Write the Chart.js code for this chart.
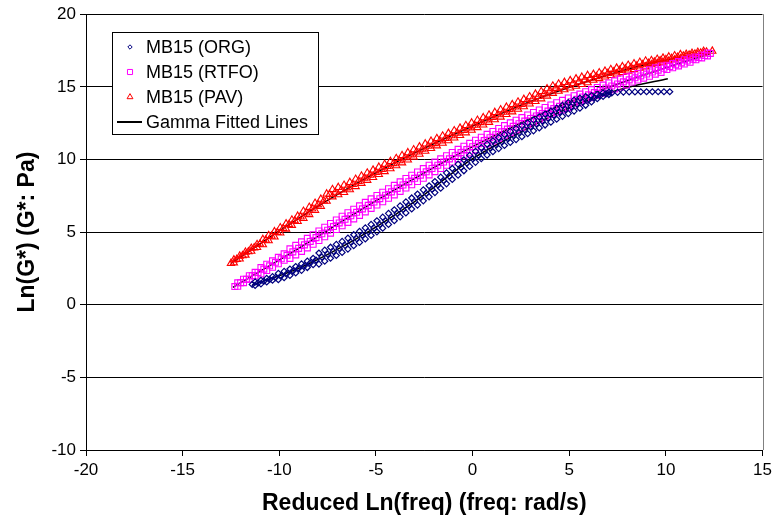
<!DOCTYPE html>
<html>
<head>
<meta charset="utf-8">
<script src="https://cdn.jsdelivr.net/npm/chart.js@4/dist/chart.umd.min.js"></script>
<style>
    html, body { margin: 0; padding: 0; background: #fff; }
    #wrap { width: 776px; height: 522px; }
</style>
</head>
<body>
<div id="wrap"><canvas id="chart" width="776" height="522"></canvas></div>
<script>
// MB15 (ORG) - middle of the band
const orgX = [-11.4, -11.1, -10.8, -10.5, -10.2, -9.9, -9.6, -9.3, -9.0, -8.7, -8.4, -8.1, -7.8, -7.5, -7.2, -6.9, -6.6, -6.3, -6.0, -5.7,
    -5.4, -5.1, -4.8, -4.5, -4.2, -3.9, -3.6, -3.3, -3.0, -2.7, -2.4, -2.1, -1.8, -1.5, -1.2, -0.9, -0.6, -0.3, 0.0, 0.3,
    0.6, 0.9, 1.2, 1.5, 1.8, 2.1, 2.4, 2.7, 3.0, 3.3, 3.6, 3.9, 4.2, 4.5, 4.8, 5.1, 5.4, 5.7, 6.0, 6.3,
    6.6, 6.9, 7.2, 7.5, 7.8, 8.1, 8.4, 8.7, 9.0, 9.3, 9.6, 9.9, 10.2];
const orgY = [1.40, 1.50, 1.62, 1.75, 1.87, 2.00, 2.15, 2.32, 2.50, 2.68, 2.88, 3.08, 3.28, 3.48, 3.67, 3.87, 4.09, 4.32, 4.55, 4.78,
    5.03, 5.27, 5.52, 5.78, 6.03, 6.29, 6.56, 6.83, 7.10, 7.38, 7.67, 7.95, 8.25, 8.55, 8.85, 9.15, 9.45, 9.75, 10.05, 10.30,
    10.55, 10.80, 11.02, 11.23, 11.45, 11.65, 11.85, 12.05, 12.25, 12.45, 12.65, 12.85, 13.05, 13.25, 13.45, 13.62, 13.80, 13.95, 14.10, 14.25,
    14.40, 14.52, 14.58, 14.62, 14.64, 14.65, 14.65, 14.66, 14.66, 14.66, 14.66, 14.66, 14.66];
// upper and lower edge of the ORG band (overlapping isotherms)
const orgEdgeX = [-11.25, -10.95, -10.65, -10.35, -10.05, -9.75, -9.45, -9.15, -8.85, -8.55, -8.25, -7.95, -7.65, -7.35, -7.05, -6.75, -6.45, -6.15, -5.85, -5.55,
    -5.25, -4.95, -4.65, -4.35, -4.05, -3.75, -3.45, -3.15, -2.85, -2.55, -2.25, -1.95, -1.65, -1.35, -1.05, -0.75, -0.45, -0.15, 0.15, 0.45,
    0.75, 1.05, 1.35, 1.65, 1.95, 2.25, 2.55, 2.85, 3.15, 3.45, 3.75, 4.05, 4.35, 4.65, 4.95, 5.25, 5.55, 5.85, 6.15, 6.45,
    6.75, 7.05];
const orgUpperY = [1.57, 1.68, 1.81, 1.93, 2.16, 2.30, 2.46, 2.63, 2.81, 3.00, 3.20, 3.56, 3.76, 3.96, 4.15, 4.36, 4.59, 4.82, 5.05, 5.29,
    5.53, 5.78, 6.03, 6.29, 6.54, 6.81, 7.08, 7.35, 7.62, 7.91, 8.19, 8.48, 8.78, 9.08, 9.38, 9.68, 9.98, 10.28, 10.56, 10.81,
    11.06, 11.29, 11.51, 11.72, 11.93, 12.13, 12.33, 12.53, 12.73, 12.93, 13.13, 13.33, 13.53, 13.73, 13.92, 14.09, 14.23, 14.33, 14.40, 14.48,
    14.58, 14.63];
const orgLowerY = [1.33, 1.44, 1.57, 1.69, 1.72, 1.86, 2.02, 2.19, 2.37, 2.56, 2.76, 2.80, 3.00, 3.20, 3.39, 3.60, 3.83, 4.06, 4.29, 4.53,
    4.77, 5.02, 5.27, 5.53, 5.78, 6.05, 6.32, 6.59, 6.86, 7.15, 7.43, 7.72, 8.02, 8.32, 8.62, 8.92, 9.22, 9.52, 9.80, 10.05,
    10.30, 10.53, 10.75, 10.96, 11.17, 11.37, 11.57, 11.77, 11.97, 12.17, 12.37, 12.57, 12.77, 12.97, 13.16, 13.33, 13.53, 13.73, 13.96, 14.18,
    14.34, 14.47];

// MB15 (RTFO)
const rtfoX = [-12.3, -12.0, -11.7, -11.4, -11.1, -10.8, -10.5, -10.2, -9.9, -9.6, -9.3, -9.0, -8.7, -8.4, -8.1, -7.8, -7.5, -7.2, -6.9, -6.6,
    -6.3, -6.0, -5.7, -5.4, -5.1, -4.8, -4.5, -4.2, -3.9, -3.6, -3.3, -3.0, -2.7, -2.4, -2.1, -1.8, -1.5, -1.2, -0.9, -0.6,
    -0.3, 0.0, 0.3, 0.6, 0.9, 1.2, 1.5, 1.8, 2.1, 2.4, 2.7, 3.0, 3.3, 3.6, 3.9, 4.2, 4.5, 4.8, 5.1, 5.4,
    5.7, 6.0, 6.3, 6.6, 6.9, 7.2, 7.5, 7.8, 8.1, 8.4, 8.7, 9.0, 9.3, 9.6, 9.9, 10.2, 10.5, 10.8, 11.1, 11.4,
    11.7, 12.0, 12.3];
const rtfoY = [1.25, 1.52, 1.76, 2.00, 2.22, 2.45, 2.68, 2.92, 3.16, 3.40, 3.64, 3.88, 4.12, 4.36, 4.62, 4.88, 5.13, 5.38, 5.63, 5.88,
    6.12, 6.36, 6.60, 6.84, 7.07, 7.30, 7.54, 7.77, 8.01, 8.24, 8.47, 8.70, 8.92, 9.15, 9.38, 9.60, 9.82, 10.04, 10.26, 10.47,
    10.68, 10.88, 11.09, 11.30, 11.50, 11.70, 11.90, 12.09, 12.28, 12.46, 12.64, 12.82, 12.99, 13.16, 13.33, 13.50, 13.66, 13.82, 13.98, 14.14,
    14.30, 14.45, 14.60, 14.75, 14.92, 15.06, 15.20, 15.34, 15.48, 15.62, 15.75, 15.88, 16.02, 16.15, 16.28, 16.40, 16.52, 16.65, 16.78, 16.90,
    17.02, 17.15, 17.30];
const rtfoEdgeX = [-12.15, -11.85, -11.55, -11.25, -10.95, -10.65, -10.35, -10.05, -9.75, -9.45, -9.15, -8.85, -8.55, -8.25, -7.95, -7.65, -7.35, -7.05, -6.75, -6.45,
    -6.15, -5.85, -5.55, -5.25, -4.95, -4.65, -4.35, -4.05, -3.75, -3.45, -3.15, -2.85, -2.55, -2.25, -1.95, -1.65, -1.35, -1.05, -0.75, -0.45,
    -0.15, 0.15, 0.45, 0.75, 1.05, 1.35, 1.65, 1.95, 2.25, 2.55, 2.85, 3.15, 3.45, 3.75, 4.05, 4.35, 4.65, 4.95, 5.25, 5.55,
    5.85, 6.15, 6.45, 6.75, 7.05, 7.35, 7.65, 7.95, 8.25, 8.55, 8.85, 9.15, 9.45, 9.75, 10.05, 10.35, 10.65, 10.95, 11.25, 11.55,
    11.85, 12.15];
const rtfoUpperY = [1.51, 1.76, 2.00, 2.23, 2.56, 2.79, 3.02, 3.26, 3.50, 3.85, 4.09, 4.33, 4.57, 4.82, 5.08, 5.34, 5.59, 5.84, 6.09, 6.33,
    6.57, 6.81, 7.05, 7.29, 7.52, 7.75, 7.99, 8.22, 8.46, 8.69, 8.92, 9.14, 9.37, 9.60, 9.82, 10.04, 10.26, 10.48, 10.70, 10.91,
    11.11, 11.32, 11.53, 11.73, 11.93, 12.13, 12.33, 12.52, 12.70, 12.88, 13.06, 13.24, 13.41, 13.58, 13.75, 13.91, 14.07, 14.23, 14.39, 14.50,
    14.66, 14.81, 14.96, 15.12, 15.27, 15.41, 15.55, 15.69, 15.77, 15.91, 16.04, 16.17, 16.31, 16.44, 16.49, 16.61, 16.74, 16.87, 16.99, 17.06,
    17.19, 17.33];
const rtfoLowerY = [1.27, 1.52, 1.76, 1.99, 2.12, 2.35, 2.58, 2.82, 3.06, 3.19, 3.43, 3.67, 3.91, 4.16, 4.42, 4.68, 4.93, 5.18, 5.43, 5.67,
    5.91, 6.15, 6.39, 6.63, 6.86, 7.09, 7.33, 7.56, 7.80, 8.03, 8.26, 8.48, 8.71, 8.94, 9.16, 9.38, 9.60, 9.82, 10.04, 10.25,
    10.45, 10.66, 10.87, 11.07, 11.27, 11.47, 11.67, 11.86, 12.04, 12.22, 12.40, 12.58, 12.75, 12.92, 13.09, 13.25, 13.41, 13.57, 13.73, 13.94,
    14.10, 14.25, 14.40, 14.56, 14.71, 14.85, 14.99, 15.13, 15.33, 15.47, 15.60, 15.73, 15.87, 15.99, 16.19, 16.31, 16.44, 16.57, 16.69, 16.86,
    16.99, 17.13];

// MB15 (PAV)
const pavX = [-12.5, -12.2, -11.9, -11.6, -11.3, -11.0, -10.7, -10.4, -10.1, -9.8, -9.5, -9.2, -8.9, -8.6, -8.3, -8.0, -7.7, -7.4, -7.1, -6.8,
    -6.5, -6.2, -5.9, -5.6, -5.3, -5.0, -4.7, -4.4, -4.1, -3.8, -3.5, -3.2, -2.9, -2.6, -2.3, -2.0, -1.7, -1.4, -1.1, -0.8,
    -0.5, -0.2, 0.1, 0.4, 0.7, 1.0, 1.3, 1.6, 1.9, 2.2, 2.5, 2.8, 3.1, 3.4, 3.7, 4.0, 4.3, 4.6, 4.9, 5.2,
    5.5, 5.8, 6.1, 6.4, 6.7, 7.0, 7.3, 7.6, 7.9, 8.2, 8.5, 8.8, 9.1, 9.4, 9.7, 10.0, 10.3, 10.6, 10.9, 11.2,
    11.5, 11.8, 12.1, 12.4];
const pavY = [2.85, 3.12, 3.38, 3.65, 3.92, 4.18, 4.45, 4.72, 4.98, 5.25, 5.52, 5.78, 6.05, 6.32, 6.60, 6.88, 7.15, 7.60, 7.75, 7.90,
    8.05, 8.28, 8.50, 8.72, 8.92, 9.12, 9.32, 9.52, 9.72, 9.92, 10.12, 10.32, 10.52, 10.72, 10.92, 11.10, 11.28, 11.46, 11.64, 11.82,
    12.00, 12.18, 12.36, 12.54, 12.72, 12.90, 13.08, 13.26, 13.44, 13.62, 13.80, 13.98, 14.16, 14.34, 14.52, 14.72, 14.90, 15.00, 15.12, 15.24,
    15.36, 15.48, 15.60, 15.71, 15.82, 15.93, 16.04, 16.14, 16.24, 16.34, 16.44, 16.53, 16.62, 16.71, 16.80, 16.88, 16.96, 17.04, 17.12, 17.19,
    17.26, 17.33, 17.40, 17.46];
const pavEdgeX = [-12.35, -12.05, -11.75, -11.45, -11.15, -10.85, -10.55, -10.25, -9.95, -9.65, -9.35, -9.05, -8.75, -8.45, -8.15, -7.85, -7.55, -7.25, -6.95, -6.65,
    -6.35, -6.05, -5.75, -5.45, -5.15, -4.85, -4.55, -4.25, -3.95, -3.65, -3.35, -3.05, -2.75, -2.45, -2.15, -1.85, -1.55, -1.25, -0.95, -0.65,
    -0.35, -0.05, 0.25, 0.55, 0.85, 1.15, 1.45, 1.75, 2.05, 2.35, 2.65, 2.95, 3.25, 3.55, 3.85, 4.15, 4.45, 4.75, 5.05, 5.35,
    5.65, 5.95, 6.25, 6.55, 6.85, 7.15, 7.45, 7.75, 8.05, 8.35, 8.65, 8.95, 9.25, 9.55, 9.85, 10.15, 10.45, 10.75, 11.05, 11.35,
    11.65, 11.95];
const pavUpperY = [3.09, 3.35, 3.62, 3.89, 4.15, 4.50, 4.77, 5.03, 5.30, 5.57, 5.83, 6.10, 6.44, 6.71, 6.99, 7.27, 7.63, 7.93, 8.08, 8.23,
    8.42, 8.64, 8.86, 9.07, 9.27, 9.47, 9.67, 9.87, 10.07, 10.27, 10.47, 10.67, 10.87, 11.07, 11.26, 11.44, 11.62, 11.80, 11.98, 12.16,
    12.34, 12.52, 12.70, 12.88, 13.06, 13.24, 13.42, 13.60, 13.78, 13.96, 14.14, 14.32, 14.50, 14.68, 14.87, 15.06, 15.20, 15.31, 15.43, 15.55,
    15.67, 15.79, 15.86, 15.97, 16.08, 16.19, 16.29, 16.39, 16.49, 16.59, 16.69, 16.78, 16.81, 16.90, 16.98, 17.06, 17.14, 17.22, 17.24, 17.31,
    17.38, 17.45];
const pavLowerY = [2.89, 3.15, 3.42, 3.69, 3.95, 4.14, 4.41, 4.67, 4.94, 5.21, 5.47, 5.74, 5.94, 6.21, 6.49, 6.77, 7.13, 7.43, 7.58, 7.73,
    7.92, 8.14, 8.36, 8.57, 8.77, 8.97, 9.17, 9.37, 9.57, 9.77, 9.97, 10.17, 10.37, 10.57, 10.76, 10.94, 11.12, 11.30, 11.48, 11.66,
    11.84, 12.02, 12.20, 12.38, 12.56, 12.74, 12.92, 13.10, 13.28, 13.46, 13.64, 13.82, 14.00, 14.18, 14.37, 14.56, 14.70, 14.81, 14.93, 15.05,
    15.17, 15.29, 15.46, 15.57, 15.68, 15.79, 15.89, 15.99, 16.09, 16.19, 16.29, 16.38, 16.53, 16.62, 16.70, 16.78, 16.86, 16.94, 17.08, 17.15,
    17.22, 17.29];

// Gamma fitted lines
const fitOrgX = [-11.4, -9, -6, -3, 0, 3, 5.6, 8, 10.1];
const fitOrgY = [1.35, 2.5, 4.55, 7.1, 10.05, 12.25, 13.9, 14.95, 15.55];
const fitRtfoX = [-12.4, -9, -6, -3, 0, 3, 6, 9, 12.3];
const fitRtfoY = [1.2, 3.88, 6.36, 8.7, 10.88, 12.82, 14.45, 15.88, 17.3];
const fitPavX = [-12.5, -9, -6, -3, 0, 3, 6, 9, 12.4];
const fitPavY = [2.85, 5.95, 8.35, 10.45, 12.3, 14.0, 15.4, 16.55, 17.45];

const seriesNames = ['MB15 (ORG)', 'MB15 (RTFO)', 'MB15 (PAV)', 'Gamma Fitted Lines'];
const FONT = "'Liberation Sans', Arial, sans-serif";

function toPoints(xs, ys) {
    return xs.map((x, i) => ({ x, y: ys[i] }));
}

// centre row plus the two edge rows of one band
function bandPoints(xs, ys, edgeXs, upperYs, lowerYs) {
    return toPoints(xs, ys).concat(toPoints(edgeXs, upperYs), toPoints(edgeXs, lowerYs));
}

function markerSet(label, points, colour, style, radius, legendRadius, lineW) {
    return {
        label,
        data: points,
        showLine: false,
        pointStyle: style,
        pointRadius: radius,
        legendRadius,
        pointBorderWidth: lineW,
        pointBorderColor: colour,
        pointBackgroundColor: 'rgba(0,0,0,0)',
        borderColor: colour,
        order: 1,
    };
}

function fitSet(label, xs, ys) {
    return {
        label,
        data: toPoints(xs, ys),
        showLine: true,
        borderColor: '#000',
        borderWidth: 1.5,
        pointRadius: 0,
        cubicInterpolationMode: 'monotone',
        order: 5,
    };
}

// legend box drawn inside the plot, Excel style
const boxLegend = {
    id: 'boxLegend',
    afterDraw(chart) {
        const ctx = chart.ctx;
        const left = 112, top = 32, w = 206, h = 102;
        ctx.save();
        ctx.fillStyle = '#fff';
        ctx.fillRect(left, top, w, h);
        ctx.strokeStyle = '#000';
        ctx.lineWidth = 1;
        ctx.strokeRect(left + 0.5, top + 0.5, w, h);
        ctx.font = '18px ' + FONT;
        ctx.textBaseline = 'middle';
        const sets = chart.data.datasets;
        for (let i = 0; i < 4; i++) {
            const ds = sets[i];
            const cy = top + 15 + i * 25;
            if (i < 3) {
                ctx.fillStyle = 'rgba(0,0,0,0)';
                ctx.strokeStyle = ds.pointBorderColor;
                ctx.lineWidth = 1;
                Chart.helpers.drawPoint(ctx, { pointStyle: ds.pointStyle, radius: ds.legendRadius, borderWidth: 1 }, 130, cy);
            } else {
                ctx.strokeStyle = '#000';
                ctx.lineWidth = 2;
                ctx.beginPath();
                ctx.moveTo(117, cy);
                ctx.lineTo(142, cy);
                ctx.stroke();
            }
            ctx.fillStyle = '#000';
            ctx.fillText(ds.label, 146, cy + 1);
        }
        ctx.restore();
    },
};

// grey right edge of the plot area
const plotFrame = {
    id: 'plotFrame',
    beforeDatasetsDraw(chart) {
        const a = chart.chartArea;
        const ctx = chart.ctx;
        ctx.save();
        ctx.strokeStyle = '#808080';
        ctx.lineWidth = 1;
        ctx.beginPath();
        ctx.moveTo(Math.round(a.right) + 0.5, a.top);
        ctx.lineTo(Math.round(a.right) + 0.5, a.bottom);
        ctx.stroke();
        ctx.restore();
    },
};

new Chart(document.getElementById('chart'), {
    type: 'scatter',
    data: {
        datasets: [
            markerSet(seriesNames[0], bandPoints(orgX, orgY, orgEdgeX, orgUpperY, orgLowerY), '#000080', 'rectRot', 3, 2.2, 1.2),
            markerSet(seriesNames[1], bandPoints(rtfoX, rtfoY, rtfoEdgeX, rtfoUpperY, rtfoLowerY), '#ff00ff', 'rect', 4.2, 3.6, 1.1),
            markerSet(seriesNames[2], bandPoints(pavX, pavY, pavEdgeX, pavUpperY, pavLowerY), '#ff0000', 'triangle', 4.2, 3.4, 1.1),
            fitSet(seriesNames[3], fitOrgX, fitOrgY),
            fitSet('fit rtfo', fitRtfoX, fitRtfoY),
            fitSet('fit pav', fitPavX, fitPavY),
        ],
    },
    options: {
        responsive: false,
        animation: false,
        layout: { padding: { top: 14, right: 10, left: 0, bottom: 0 } },
        plugins: {
            legend: { display: false },
            tooltip: { enabled: false },
        },
        scales: {
            x: {
                type: 'linear',
                min: -20,
                max: 15,
                ticks: { stepSize: 5, color: '#000', font: { family: FONT, size: 17 }, padding: 4, maxRotation: 0 },
                grid: { display: true, drawOnChartArea: false, drawTicks: true, tickLength: 6, color: '#000' },
                border: { display: true, color: '#000', width: 1 },
                title: {
                    display: true,
                    text: 'Reduced Ln(freq) (freq: rad/s)',
                    color: '#000',
                    font: { family: FONT, size: 23, weight: 'bold' },
                    padding: { top: 5, bottom: 5 },
                },
                afterFit(scale) { scale.height = 72; },
            },
            y: {
                type: 'linear',
                min: -10,
                max: 20,
                ticks: { stepSize: 5, color: '#000', font: { family: FONT, size: 17 }, padding: 4 },
                grid: { color: '#000', lineWidth: 1, tickLength: 6, drawTicks: true },
                border: { display: true, color: '#000', width: 1 },
                title: {
                    display: true,
                    text: 'Ln(G*) (G*: Pa)',
                    color: '#000',
                    font: { family: FONT, size: 23, weight: 'bold' },
                    padding: { top: 14, bottom: 14 },
                },
                afterFit(scale) { scale.width = 86; },
            },
        },
    },
    plugins: [plotFrame, boxLegend],
});
</script>
</body>
</html>
